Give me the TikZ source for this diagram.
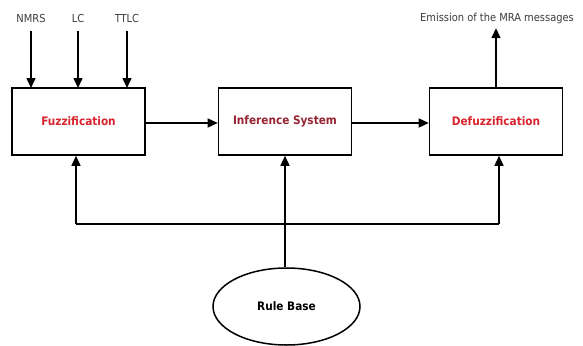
\documentclass[tikz,border=0pt]{standalone}
\usepackage{fontspec}
\setmainfont{DejaVu Sans Condensed}
\usetikzlibrary{arrows.meta,shapes.geometric}
\definecolor{boxred}{RGB}{215,35,45}
\definecolor{infred}{RGB}{150,35,50}
\definecolor{lbl}{RGB}{60,60,60}
\begin{document}
\begin{tikzpicture}[x=1pt,y=-1pt,
  blk/.style={draw,line width=1.6pt,minimum width=133pt,minimum height=67pt,inner sep=0pt,font=\bfseries\fontsize{11.7}{14}\selectfont},
  lab/.style={inner sep=0pt,text=lbl,font=\fontsize{11}{13}\selectfont},
  arr/.style={line width=1.5pt,-{Triangle[length=10pt,width=9pt]}},
  ln/.style={line width=1.5pt}]
\useasboundingbox (0,0) rectangle (583,345);
\node[blk,text=boxred] (fuz) at (78.5,121.5) {Fuzzification};
\node[blk,text=infred] (inf) at (285,121.5) {Inference System};
\node[blk,text=boxred] (def) at (496,121.5) {Defuzzification};
\node[draw,ellipse,line width=1.5pt,minimum width=147pt,minimum height=77pt,inner sep=0pt,font=\bfseries\fontsize{11.7}{14}\selectfont] (rb) at (286.5,306.5) {Rule Base};
\node[lab] (nmrs) at (31,18) {NMRS};
\node[lab] (lc) at (78,18) {LC};
\node[lab] (ttlc) at (127,18) {TTLC};
\node[lab] (emi) at (497,18) {Emission of the MRA messages};
\draw[arr] (nmrs.south) ++(0,9) -- (31,88);
\draw[arr] (lc.south) ++(0,9) -- (78,88);
\draw[arr] (ttlc.south) ++(0,9) -- (127,88);
\draw[arr] (def.north) -- ++(0,-59);
\draw[arr] (fuz.east |- 0,123) -- (inf.west |- 0,123);
\draw[arr] (inf.east |- 0,123) -- (def.west |- 0,123);
\coordinate (hl) at (76,224);
\coordinate (hr) at (499,224);
\draw[ln] (hl) -- (hr);
\draw[arr] (hl) -- (fuz.south -| hl);
\draw[arr] (hr) -- (def.south -| hr);
\draw[arr] (rb.north -| 285,0) -- (inf.south -| 285,0);
\end{tikzpicture}
\end{document}
